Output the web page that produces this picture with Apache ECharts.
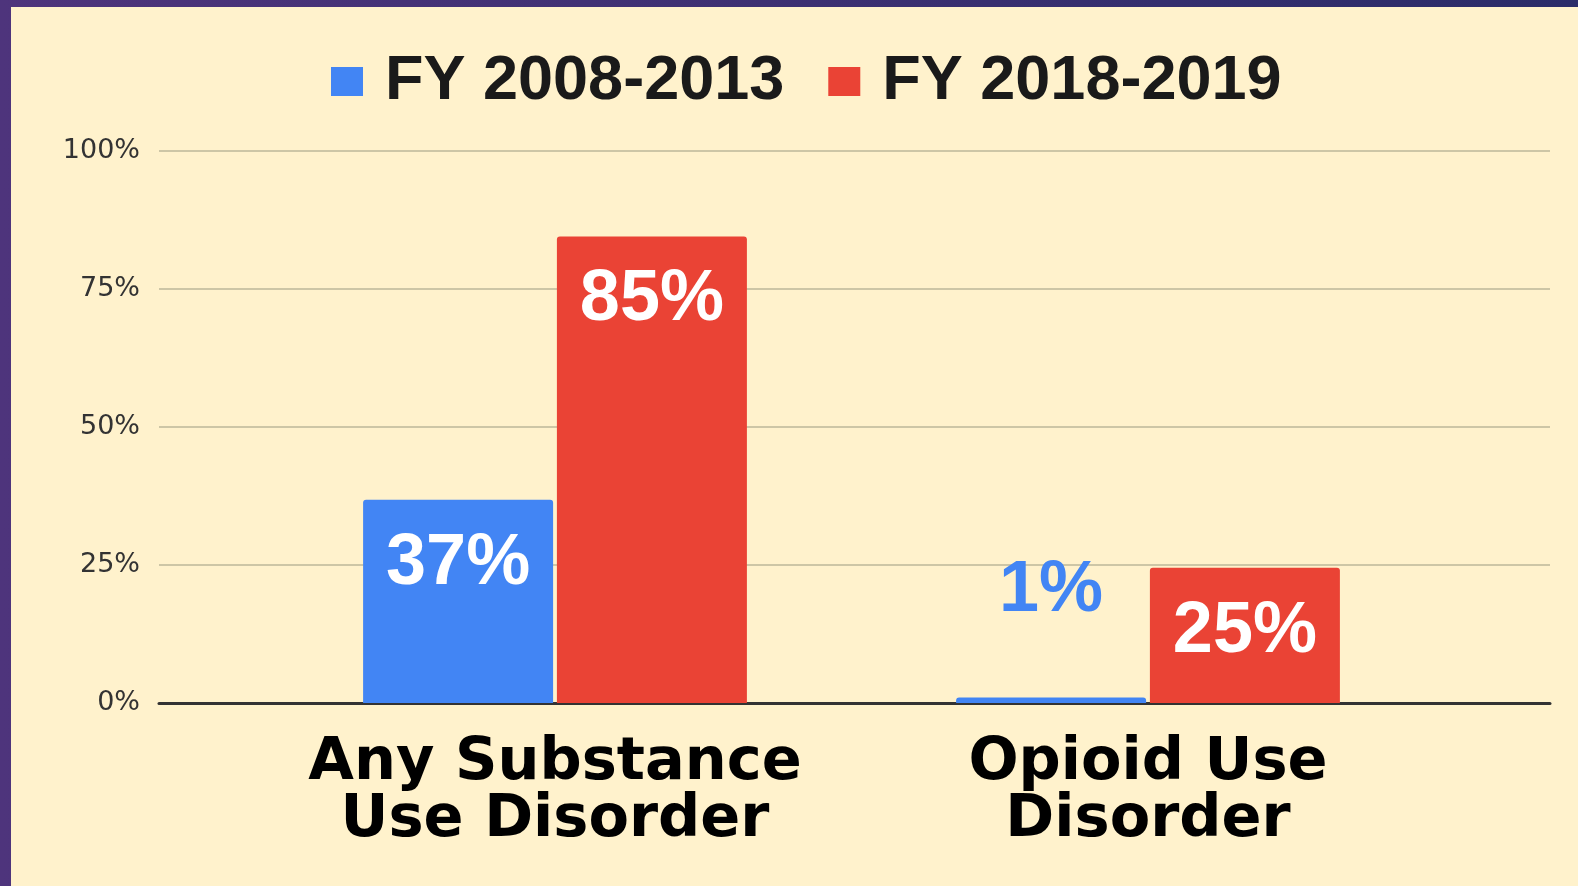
<!DOCTYPE html>
<html>
<head>
<meta charset="utf-8">
<script src="https://cdn.jsdelivr.net/npm/echarts@6/dist/echarts.min.js"></script>
<style>
  html, body { margin: 0; padding: 0; }
  body {
    width: 1578px; height: 886px; overflow: hidden; position: relative;
    background: linear-gradient(to right, #4e347c, #2b2c69);
  }
  .paper { position: absolute; left: 11px; top: 7px; right: 0; bottom: 0; background: #fff2cc; }
  #chart { position: absolute; left: 0; top: 0; width: 1578px; height: 886px; }
</style>
</head>
<body>
<div class="paper"></div>
<div id="chart"></div>
<script>
// categories and series
let categories = ['Any Substance\nUse Disorder', 'Opioid Use\nDisorder']
let seriesNames = ['FY 2008-2013', 'FY 2018-2019']
let earlyValues = [36.8, 1]
let lateValues = [84.5, 24.5]
let yTicks = [0, 25, 50, 75, 100]

const BLUE = '#4285f4'
const RED = '#ea4335'

const chart = echarts.init(document.getElementById('chart'))

// label for the small bar sits above it in blue
let earlyData = earlyValues.map((v) => {
  if (v < 10) {
    return {
      value: v,
      label: { position: 'top', distance: 70, color: BLUE },
    }
  }
  return v
})

const barLabel = {
  show: true,
  position: 'insideTop',
  distance: 28,
  fontFamily: 'Liberation Sans',
  fontWeight: 'bold',
  fontSize: 72,
  color: '#fff',
  formatter: (p) => Math.round(p.value) + '%',
}

chart.setOption({
  backgroundColor: 'transparent',
  animation: false,
  legend: {
    left: 326,
    top: 45,
    itemWidth: 32,
    itemHeight: 29,
    itemGap: 44,
    icon: 'rect',
    textStyle: {
      fontFamily: 'Liberation Sans',
      fontWeight: 'bold',
      fontSize: 63,
      color: '#1a1a1a',
      padding: [0, 0, 0, 17],
    },
    data: seriesNames,
  },
  grid: [
    // full-width grid for gridlines and baseline
    { left: 159, right: 28, top: 151, bottom: 183 },
    // narrower grid where the bars live
    { left: 258.5, right: 133.5, top: 151, bottom: 183 },
  ],
  xAxis: [
    {
      gridIndex: 0,
      type: 'value',
      min: 0,
      max: 1,
      axisLine: { show: true, onZero: false, lineStyle: { color: '#333', width: 3 } },
      axisTick: { show: false },
      axisLabel: { show: false },
      splitLine: { show: false },
    },
    {
      gridIndex: 1,
      type: 'category',
      data: categories,
      axisLine: { show: false },
      axisTick: { show: false },
      axisLabel: {
        interval: 0,
        margin: 32,
        fontFamily: 'DejaVu Sans',
        fontWeight: 'bold',
        fontSize: 59,
        lineHeight: 57,
        color: '#000',
      },
    },
  ],
  yAxis: [
    {
      gridIndex: 0,
      type: 'value',
      min: yTicks[0],
      max: yTicks[yTicks.length - 1],
      interval: 25,
      axisLine: { show: false },
      axisTick: { show: false },
      axisLabel: {
        margin: 19,
        formatter: '{value}%',
        fontFamily: 'DejaVu Sans',
        fontSize: 27,
        color: '#333',
        padding: [6, 0, 0, 0],
      },
      splitLine: { lineStyle: { color: '#cdc6a6', width: 2 } },
    },
    {
      gridIndex: 1,
      type: 'value',
      min: 0,
      max: 100,
      show: false,
    },
  ],
  series: [
    {
      name: seriesNames[0],
      type: 'bar',
      xAxisIndex: 1,
      yAxisIndex: 1,
      barWidth: 190,
      barGap: '2%',
      itemStyle: { color: BLUE, borderRadius: [3, 3, 0, 0] },
      label: barLabel,
      data: earlyData,
    },
    {
      name: seriesNames[1],
      type: 'bar',
      xAxisIndex: 1,
      yAxisIndex: 1,
      barWidth: 190,
      barGap: '2%',
      itemStyle: { color: RED, borderRadius: [3, 3, 0, 0] },
      label: barLabel,
      data: lateValues,
    },
  ],
})
</script>
</body>
</html>
